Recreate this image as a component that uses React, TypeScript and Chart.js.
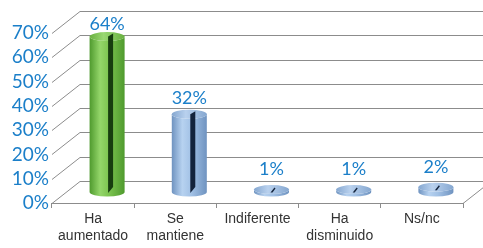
import React, { useEffect, useRef } from "react";
import { Chart, registerables } from "chart.js";

Chart.register(...registerables);

const categories: (string | string[])[] = [
  ["Ha", "aumentado"],
  ["Se", "mantiene"],
  "Indiferente",
  ["Ha", "disminuido"],
  "Ns/nc",
];
const values = [64, 32, 1, 1, 2];
const yTicks = [0, 10, 20, 30, 40, 50, 60, 70];
const barColors = ["green", "blue", "blue", "blue", "blue"];

const DX = 28;
const DY = 22;
const RY = 4.5;
const BLUE_TEXT = "#1b7fc9";
const GRID = "#8c8c8c";

const palettes: Record<string, { edge: string; mid: string; light: string; cap: string; capEdge: string; stripe: string }> = {
  green: { edge: "#4f9a2e", mid: "#7cc450", light: "#94d66a", cap: "#9ad872", capEdge: "#68b03f", stripe: "#173d0f" },
  blue: { edge: "#6f93c0", mid: "#a3c2e6", light: "#b7d2f0", cap: "#b9d1ee", capEdge: "#85a7d0", stripe: "#13233c" },
};

function drawCylinder(ctx: CanvasRenderingContext2D, cx: number, top: number, bot: number, w: number, kind: string) {
  const p = palettes[kind];
  const l = cx - w / 2;
  const r = cx + w / 2;
  const g = ctx.createLinearGradient(l, 0, r, 0);
  g.addColorStop(0, p.edge);
  g.addColorStop(0.3, p.light);
  g.addColorStop(0.55, p.mid);
  g.addColorStop(1, p.edge);
  ctx.beginPath();
  ctx.moveTo(l, top);
  ctx.lineTo(l, bot);
  ctx.ellipse(cx, bot, w / 2, RY, 0, Math.PI, 0, true);
  ctx.lineTo(r, top);
  ctx.ellipse(cx, top, w / 2, RY, 0, 0, Math.PI, false);
  ctx.closePath();
  ctx.fillStyle = g;
  ctx.fill();
  const cg = ctx.createLinearGradient(l, 0, r, 0);
  cg.addColorStop(0, p.capEdge);
  cg.addColorStop(0.4, p.cap);
  cg.addColorStop(1, p.capEdge);
  ctx.beginPath();
  ctx.ellipse(cx, top, w / 2, RY, 0, 0, Math.PI * 2);
  ctx.fillStyle = cg;
  ctx.fill();
  ctx.fillStyle = p.stripe;
  const h = bot - top;
  if (h > 12) {
    ctx.beginPath();
    ctx.moveTo(cx + 1, top);
    ctx.lineTo(cx + 6, top - 3);
    ctx.lineTo(cx + 6, bot - 5);
    ctx.lineTo(cx + 1, bot + 1);
    ctx.closePath();
    ctx.fill();
  } else {
    ctx.beginPath();
    ctx.moveTo(cx - 1, top + 3);
    ctx.lineTo(cx + 3, top - 2);
    ctx.lineTo(cx + 4, top - 1);
    ctx.lineTo(cx + 1, top + 3);
    ctx.closePath();
    ctx.fill();
  }
}

const threeD = {
  id: "threeD",
  beforeDatasetsDraw(chart: any) {
    const { ctx, chartArea: a, scales } = chart;
    const y = scales.y;
    ctx.save();
    ctx.strokeStyle = GRID;
    ctx.lineWidth = 1;
    for (const v of yTicks) {
      const py = Math.round(y.getPixelForValue(v)) + 0.5;
      ctx.beginPath();
      ctx.moveTo(a.left, py);
      ctx.lineTo(a.left + DX, py - DY);
      ctx.lineTo(chart.width, py - DY);
      ctx.stroke();
    }
    const by = Math.round(a.bottom) + 0.5;
    ctx.beginPath();
    ctx.moveTo(a.left, by);
    ctx.lineTo(a.right, by);
    ctx.lineTo(a.right + DX, by - DY);
    ctx.stroke();
    ctx.restore();
  },
  afterDatasetsDraw(chart: any) {
    const { ctx } = chart;
    const meta = chart.getDatasetMeta(0);
    ctx.save();
    meta.data.forEach((el: any, i: number) => {
      const cx = el.x + DX / 2;
      const top = el.y - DY / 2;
      const bot = el.base - DY / 2;
      drawCylinder(ctx, cx, top, bot, el.width, barColors[i]);
      const h = el.base - el.y;
      const baseline = el.y - (25.7 - 0.052 * h);
      ctx.fillStyle = BLUE_TEXT;
      ctx.font = "18px Lato, 'Noto Sans', sans-serif";
      ctx.textAlign = "center";
      ctx.textBaseline = "alphabetic";
      ctx.fillText(values[i] + "%", cx, baseline);
    });
    ctx.restore();
  },
};

export default function App() {
  const ref = useRef<HTMLCanvasElement | null>(null);
  useEffect(() => {
    document.body.style.margin = "0";
    const canvas = ref.current!;
    const chart = new Chart(canvas, {
      type: "bar",
      data: {
        labels: categories,
        datasets: [
          {
            data: values,
            backgroundColor: "rgba(0,0,0,0)",
            borderWidth: 0,
            barPercentage: 0.426,
            categoryPercentage: 1,
          },
        ],
      },
      options: {
        responsive: false,
        animation: false,
        events: [],
        layout: { padding: { top: 33, right: 20, left: 0, bottom: 0 } },
        plugins: { legend: { display: false }, tooltip: { enabled: false } },
        scales: {
          x: {
            grid: { display: true, drawOnChartArea: false, drawTicks: true, tickLength: 5, color: GRID, offset: true },
            border: { display: false },
            ticks: {
              color: "#333333",
              font: { family: "'Liberation Sans', Arial, sans-serif", size: 14 },
              padding: 3,
              maxRotation: 0,
              autoSkip: false,
            },
            afterFit: (s: any) => {
              s.height = 45;
            },
          },
          y: {
            min: 0,
            max: 70,
            grid: { display: false, drawTicks: false },
            border: { display: false },
            ticks: {
              stepSize: 10,
              autoSkip: false,
              color: BLUE_TEXT,
              font: { family: "Lato, 'Noto Sans', sans-serif", size: 19 },
              padding: 3,
              callback: (v: any) => v + "%",
            },
            afterFit: (s: any) => {
              s.width = 52;
            },
          },
        },
      },
      plugins: [threeD],
    });
    return () => chart.destroy();
  }, []);
  return (
    <div style={{ width: 483, height: 248 }}>
      <canvas ref={ref} width={483} height={248} style={{ display: "block" }} />
    </div>
  );
}
